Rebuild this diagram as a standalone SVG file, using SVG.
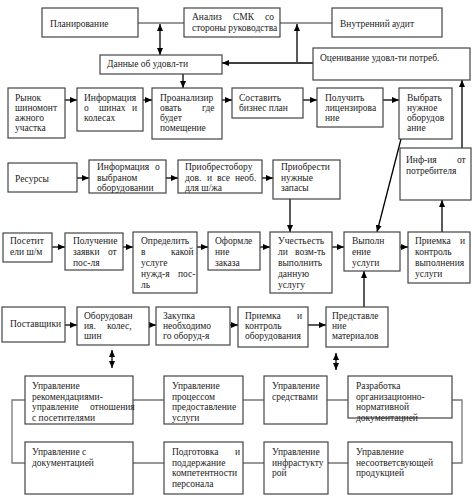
<svg xmlns="http://www.w3.org/2000/svg" width="474" height="499" viewBox="0 0 474 499">
<defs>
<marker id="a" markerWidth="7" markerHeight="6" refX="7" refY="3" orient="auto-start-reverse" markerUnits="userSpaceOnUse"><path d="M0,0 L7,3 L0,6 Z" fill="#000"/></marker>
<style>
.b{fill:#fff;stroke:#444;stroke-width:1.2}
.t{font-family:"Liberation Serif","Times New Roman",serif;font-size:9.5px;fill:#222}
.c{stroke:#000;stroke-width:1.3;fill:none}
.g{stroke:#777;stroke-width:1.3;fill:none}
</style>
</defs>
<rect width="474" height="499" fill="#fff"/>
<g id="connectors">
<path class="g" d="M138,23 H184 M280,23 H332"/>
<path class="c" d="M160,24 V55" marker-start="url(#a)" marker-end="url(#a)"/>
<path class="c" d="M297,24 V62" marker-start="url(#a)"/>
<path class="c" d="M313,63 H222" marker-end="url(#a)"/>
<path class="c" d="M183,74 V88" marker-end="url(#a)"/>
<path class="c" d="M462,148 V80" marker-end="url(#a)"/>
<path class="c" d="M65,100 H77" marker-end="url(#a)"/>
<path class="c" d="M143,100 H152" marker-end="url(#a)"/>
<path class="c" d="M222,100 H232" marker-end="url(#a)"/>
<path class="c" d="M303,100 H317" marker-end="url(#a)"/>
<path class="c" d="M383,100 H399" marker-end="url(#a)"/>
<path class="c" d="M77,178 H89" marker-end="url(#a)"/>
<path class="c" d="M166,178 H178" marker-end="url(#a)"/>
<path class="c" d="M262,178 H273" marker-end="url(#a)"/>
<path class="c" d="M290,199 V232" marker-end="url(#a)"/>
<path class="c" d="M401,139 L377,232" marker-end="url(#a)"/>
<path class="c" d="M442,232 V200" marker-end="url(#a)"/>
<path class="c" d="M52,247 H65" marker-end="url(#a)"/>
<path class="c" d="M123,247 H133" marker-end="url(#a)"/>
<path class="c" d="M197,247 H208" marker-end="url(#a)"/>
<path class="c" d="M260,247 H270" marker-end="url(#a)"/>
<path class="c" d="M332,247 H344" marker-end="url(#a)"/>
<path class="c" d="M400,247 H408" marker-end="url(#a)"/>
<path class="c" d="M364,307 V271" marker-end="url(#a)"/>
<path class="c" d="M65,325 H77" marker-end="url(#a)"/>
<path class="c" d="M149,325 H156" marker-end="url(#a)"/>
<path class="c" d="M230,325 H238" marker-end="url(#a)"/>
<path class="c" d="M308,325 H326" marker-end="url(#a)"/>
<path class="c" d="M112,350 V368" marker-start="url(#a)" marker-end="url(#a)"/>
<path class="c" d="M336,353 V370" marker-start="url(#a)" marker-end="url(#a)"/>
<path class="g" d="M133,400 H164 M243,400 H264 M327,400 H348 M452,400 H462 V463 H452 M348,463 H328 M264,463 H243 M164,463 H133 M25,463 H12 V400 H25"/>
</g>
<g id="n1"><rect class="b" x="42" y="8" width="96" height="29"/><text class="t" x="50" y="27">Планирование</text></g>
<g id="n2"><rect class="b" x="184" y="8" width="96" height="29"/><text class="t"><tspan x="192" y="20">Анализ</tspan><tspan x="233" y="20">СМК</tspan><tspan x="265" y="20">со</tspan><tspan x="192" y="31">стороны руководства</tspan></text></g>
<g id="n3"><rect class="b" x="332" y="8" width="110" height="29"/><text class="t" x="340" y="27">Внутренний аудит</text></g>
<g id="n4"><rect class="b" x="100" y="55" width="122" height="19"/><text class="t" x="107" y="67">Данные об удовл-ти</text></g>
<g id="n5"><rect class="b" x="313" y="48" width="157" height="32"/><text class="t" x="320" y="61">Оценивание удовл-ти потреб.</text></g>
<g id="n6"><rect class="b" x="8" y="88" width="57" height="50"/><text class="t"><tspan x="15" y="101">Рынок</tspan><tspan x="15" y="111">шиномонт</tspan><tspan x="15" y="121">ажного</tspan><tspan x="15" y="131">участка</tspan></text></g>
<g id="n7"><rect class="b" x="77" y="88" width="66" height="43"/><text class="t"><tspan x="84" y="101">Информация</tspan><tspan x="84" y="111">о</tspan><tspan x="99" y="111">шинах</tspan><tspan x="132" y="111">и</tspan><tspan x="84" y="121">колесах</tspan></text></g>
<g id="n8"><rect class="b" x="152" y="88" width="70" height="51"/><text class="t"><tspan x="160" y="101">Проанализир</tspan><tspan x="160" y="111">овать</tspan><tspan x="202" y="111">где</tspan><tspan x="160" y="121">будет</tspan><tspan x="160" y="131">помещение</tspan></text></g>
<g id="n9"><rect class="b" x="232" y="88" width="71" height="30"/><text class="t"><tspan x="239" y="101">Составить</tspan><tspan x="239" y="111">бизнес план</tspan></text></g>
<g id="n10"><rect class="b" x="317" y="88" width="66" height="39"/><text class="t"><tspan x="325" y="101">Получить</tspan><tspan x="325" y="111">лицензирова</tspan><tspan x="325" y="121">ние</tspan></text></g>
<g id="n11"><rect class="b" x="399" y="88" width="53" height="51"/><text class="t"><tspan x="407" y="101">Выбрать</tspan><tspan x="407" y="111">нужное</tspan><tspan x="407" y="121">оборудов</tspan><tspan x="407" y="131">ание</tspan></text></g>
<g id="n12"><rect class="b" x="8" y="163" width="69" height="29"/><text class="t" x="15" y="182">Ресурсы</text></g>
<g id="n13"><rect class="b" x="89" y="160" width="77" height="33"/><text class="t"><tspan x="97" y="170">Информация</tspan><tspan x="155" y="170">о</tspan><tspan x="97" y="180.5">выбраном</tspan><tspan x="97" y="191">оборудовании</tspan></text></g>
<g id="n14"><rect class="b" x="178" y="160" width="84" height="33"/><text class="t"><tspan x="185" y="170">Приобрестобору</tspan><tspan x="185" y="180.5">дов.</tspan><tspan x="207" y="180.5">и</tspan><tspan x="217" y="180.5">все</tspan><tspan x="235" y="180.5">необ.</tspan><tspan x="185" y="191">для ш/жа</tspan></text></g>
<g id="n15"><rect class="b" x="273" y="160" width="67" height="39"/><text class="t"><tspan x="281" y="170">Приобрести</tspan><tspan x="281" y="180.5">нужные</tspan><tspan x="281" y="191">запасы</tspan></text></g>
<g id="n16"><rect class="b" x="400" y="148" width="71" height="52"/><text class="t"><tspan x="406" y="163">Инф-ия</tspan><tspan x="457" y="163">от</tspan><tspan x="406" y="174">потребителя</tspan></text></g>
<g id="n17"><rect class="b" x="3" y="233" width="49" height="29"/><text class="t"><tspan x="10" y="244">Посетит</tspan><tspan x="10" y="255">ели ш/м</tspan></text></g>
<g id="n18"><rect class="b" x="65" y="233" width="58" height="37"/><text class="t"><tspan x="73" y="244">Получение</tspan><tspan x="73" y="255">заявки</tspan><tspan x="108" y="255">от</tspan><tspan x="73" y="266">пос-ля</tspan></text></g>
<g id="n19"><rect class="b" x="133" y="232" width="64" height="61"/><text class="t"><tspan x="141" y="244">Определить</tspan><tspan x="141" y="255">в</tspan><tspan x="171" y="255">какой</tspan><tspan x="141" y="266">услуге</tspan><tspan x="141" y="277">нужд-я</tspan><tspan x="178" y="277">пос-</tspan><tspan x="141" y="288">ль</tspan></text></g>
<g id="n20"><rect class="b" x="208" y="232" width="52" height="38"/><text class="t"><tspan x="215" y="244">Оформле</tspan><tspan x="215" y="255">ние</tspan><tspan x="215" y="266">заказа</tspan></text></g>
<g id="n21"><rect class="b" x="270" y="232" width="62" height="61"/><text class="t"><tspan x="278" y="244">Учесть</tspan><tspan x="307" y="244">есть</tspan><tspan x="278" y="255">ли</tspan><tspan x="295" y="255">возм-ть</tspan><tspan x="278" y="266">выполнить</tspan><tspan x="278" y="277">данную</tspan><tspan x="278" y="288">услугу</tspan></text></g>
<g id="n22"><rect class="b" x="344" y="232" width="56" height="39"/><text class="t"><tspan x="352" y="244">Выполн</tspan><tspan x="352" y="255">ение</tspan><tspan x="352" y="266">услуги</tspan></text></g>
<g id="n23"><rect class="b" x="408" y="232" width="62" height="51"/><text class="t"><tspan x="415" y="244">Приемка</tspan><tspan x="460" y="244">и</tspan><tspan x="415" y="255">контроль</tspan><tspan x="415" y="266">выполнения</tspan><tspan x="415" y="277">услуги</tspan></text></g>
<g id="n24"><rect class="b" x="2" y="307" width="63" height="35"/><text class="t" x="10" y="327">Поставщики</text></g>
<g id="n25"><rect class="b" x="77" y="307" width="72" height="38"/><text class="t"><tspan x="84" y="319">Оборудован</tspan><tspan x="84" y="329">ия.</tspan><tspan x="107" y="329">колес,</tspan><tspan x="84" y="339">шин</tspan></text></g>
<g id="n26"><rect class="b" x="156" y="307" width="74" height="38"/><text class="t"><tspan x="163" y="319">Закупка</tspan><tspan x="163" y="329">необходимо</tspan><tspan x="163" y="339">го оборуд-я</tspan></text></g>
<g id="n27"><rect class="b" x="238" y="307" width="70" height="40"/><text class="t"><tspan x="245" y="319">Приемка</tspan><tspan x="297" y="319">и</tspan><tspan x="245" y="329">контроль</tspan><tspan x="245" y="339">оборудования</tspan></text></g>
<g id="n28"><rect class="b" x="326" y="307" width="62" height="40"/><text class="t"><tspan x="332" y="319">Представле</tspan><tspan x="332" y="329">ние</tspan><tspan x="332" y="339">материалов</tspan></text></g>
<g id="n29"><rect class="b" x="25" y="376" width="108" height="48"/><text class="t"><tspan x="32" y="389">Управление</tspan><tspan x="32" y="399.5">рекомендациями-</tspan><tspan x="32" y="410">управление</tspan><tspan x="90" y="410">отношения</tspan><tspan x="32" y="420.5">с посетителями</tspan></text></g>
<g id="n30"><rect class="b" x="164" y="376" width="79" height="48"/><text class="t"><tspan x="172" y="389">Управление</tspan><tspan x="172" y="399.5">процессом</tspan><tspan x="172" y="410">предоставление</tspan><tspan x="172" y="420.5">услуги</tspan></text></g>
<g id="n31"><rect class="b" x="264" y="376" width="63" height="48"/><text class="t"><tspan x="272" y="389">Управление</tspan><tspan x="272" y="399.5">средствами</tspan></text></g>
<g id="n32"><rect class="b" x="348" y="376" width="104" height="42"/><text class="t"><tspan x="356" y="389">Разработка</tspan><tspan x="356" y="399.5">организационно-</tspan><tspan x="356" y="410">нормативной</tspan><tspan x="356" y="420.5">документацией</tspan></text></g>
<g id="n33"><rect class="b" x="25" y="442" width="108" height="52"/><text class="t"><tspan x="32" y="455">Управление с</tspan><tspan x="32" y="465.5">документацией</tspan></text></g>
<g id="n34"><rect class="b" x="164" y="442" width="79" height="52"/><text class="t"><tspan x="172" y="455">Подготовка</tspan><tspan x="235" y="455">и</tspan><tspan x="172" y="465.5">поддержание</tspan><tspan x="172" y="476">компетентности</tspan><tspan x="172" y="486.5">персонала</tspan></text></g>
<g id="n35"><rect class="b" x="264" y="442" width="64" height="52"/><text class="t"><tspan x="272" y="455">Управление</tspan><tspan x="272" y="465.5">инфрастукту</tspan><tspan x="272" y="476">рой</tspan></text></g>
<g id="n36"><rect class="b" x="348" y="442" width="104" height="52"/><text class="t"><tspan x="356" y="455">Управление</tspan><tspan x="356" y="465.5">несоответсвующей</tspan><tspan x="356" y="476">продукцией</tspan></text></g>
</svg>
